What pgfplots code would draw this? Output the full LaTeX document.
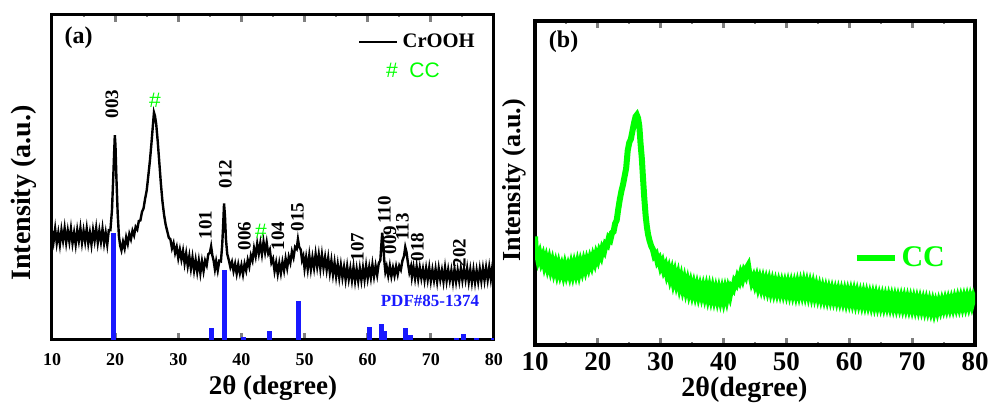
\documentclass[border=0pt]{standalone}
\usepackage{fontspec}
\setmainfont{Liberation Serif}
\newfontfamily\sansf{Liberation Sans}
\usepackage{pgfplots}
\usepackage{pgfplotstable}
\pgfplotsset{compat=1.18}
\definecolor{ccgreen}{RGB}{0,255,0}
\definecolor{pdfblue}{RGB}{25,25,255}
\newcommand{\fs}[1]{\fontsize{#1}{#1}\selectfont\bfseries}

% CrOOH pattern, panel (a)
\pgfplotstableread{
x y
10 33.6
10.25 30.3
10.5 34.2
10.75 29.8
11 33.0
11.25 29.4
11.5 33.8
11.75 30.6
12 34.4
12.25 30.0
12.5 33.6
12.75 30.3
13 34.2
13.25 29.8
13.5 33.0
13.75 29.4
14 33.8
14.25 30.6
14.5 34.4
14.75 30.0
15 33.6
15.25 30.3
15.5 34.2
15.75 29.8
16 33.0
16.25 29.4
16.5 33.8
16.75 30.6
17 34.4
17.25 30.0
17.5 33.6
17.75 30.3
18 34.2
18.25 29.8
18.5 33.0
18.75 29.4
19 33.8
19.25 33.8
19.5 40
19.7 50
19.85 58
19.95 63
20.05 60
20.2 50
20.4 39
20.6 32
20.8 29.0
21.0 27.6
21.25 30.2
21.5 28.2
21.75 31.6
22.0 29.6
22.25 32.6
22.5 31.0
22.75 33.6
23.0 32.2
23.25 34.8
23.5 34.0
23.75 36.6
24.0 36.8
24.25 39.4
24.5 40.5
24.75 43.5
25.0 46.0
25.25 50.5
25.5 55.0
25.75 60.5
26.0 66.5
26.15 70.0
26.3 69.0
26.5 66.5
26.75 61.0
27.0 54.5
27.25 48.0
27.5 42.5
27.75 38.5
28.0 35.5
28.25 33.5
28.5 31.5
28.75 31.0
29.0 28.2
29.25 29.8
29.5 26.8
29.75 28.6
30.0 25.2
30.25 27.8
30.5 24.8
30.75 27.4
31.0 23.6
31.25 26.6
31.5 22.8
31.75 25.8
32.0 22.0
32.25 25.4
32.5 21.4
32.75 24.6
33.0 21.0
33.25 24.4
33.5 20.6
33.75 24.2
34.0 21.2
34.25 24.4
34.5 23.0
34.75 26.4
35.0 26.8
35.2 28.8
35.4 26.0
35.6 24.4
35.8 21.8
36.0 24.2
36.25 21.4
36.5 24.4
36.75 24.2
36.95 29.0
37.1 35
37.25 42
37.4 38
37.55 31
37.75 26.5
38.0 24.6
38.25 22.4
38.5 24.0
38.75 21.2
39.0 23.4
39.25 20.4
39.5 23.2
39.75 20.6
40.0 23.0
40.25 20.2
40.5 23.4
40.75 21.4
41.0 24.6
41.25 22.6
41.5 26.0
41.75 24.4
42.0 28.2
42.25 25.8
42.5 29.6
42.75 26.6
43.0 29.8
43.25 26.4
43.5 30.2
43.75 27.0
44.0 30.0
44.25 26.6
44.5 27.8
44.75 23.8
45.0 25.0
45.25 21.2
45.5 23.8
45.75 20.4
46.0 23.6
46.25 20.6
46.5 24.0
46.75 21.4
47.0 25.0
47.25 22.2
47.5 25.6
47.75 23.8
48.0 27.2
48.25 25.4
48.5 28.6
48.75 28.0
48.95 31.0
49.15 28.6
49.4 27.8
49.6 24.6
49.8 25.8
50.0 22.0
50.25 25.4
50.5 21.8
50.75 26.0
51.0 21.8
51.25 25.4
51.5 22.2
51.75 26.4
52.0 22.6
52.25 26.2
52.5 22.0
52.75 26.2
53.0 22.2
53.25 25.4
53.5 21.6
53.75 25.2
54.0 20.8
54.25 24.4
54.5 20.2
54.75 23.8
55.0 19.6
55.25 23.2
55.5 19.2
55.75 23.0
56.0 19.2
56.25 22.4
56.5 18.6
56.75 22.6
57.0 18.8
57.25 22.0
57.5 18.4
57.75 22.4
58.0 18.2
58.25 21.8
58.5 18.2
58.75 22.0
59.0 18.4
59.25 22.2
59.5 18.6
59.75 22.8
60.0 19.0
60.25 22.4
60.5 19.2
60.75 23.2
61.0 19.6
61.25 22.8
61.5 20.0
61.75 23.6
62.0 24.5
62.15 29.0
62.3 33.0
62.45 30.0
62.6 25.0
62.8 21.0
63.0 22.6
63.25 19.8
63.5 22.8
63.75 19.6
64.0 22.2
64.25 19.8
64.5 22.6
64.75 20.2
65.0 22.8
65.25 21.6
65.5 24.4
65.75 25.8
65.95 28.6
66.15 27.0
66.35 24.0
66.6 20.8
66.85 22.6
67.0 19.4
67.25 22.4
67.5 19.0
67.75 22.6
68.0 18.8
68.25 22.2
68.5 19.0
68.75 21.8
69.0 18.4
69.25 22.0
69.5 18.6
69.75 22.2
70.0 18.2
70.25 21.6
70.5 18.4
70.75 21.8
71.0 18.0
71.25 22.0
71.5 18.6
71.75 21.4
72.0 18.0
72.25 22.2
72.5 18.2
72.75 21.6
73.0 18.4
73.25 21.4
73.5 17.8
73.75 21.8
74.0 18.0
74.25 21.4
74.5 18.2
74.75 22.0
75.0 18.4
75.25 21.8
75.5 18.6
75.75 22.0
76.0 18.0
76.25 21.6
76.5 17.8
76.75 21.6
77.0 17.8
77.25 21.4
77.5 18.0
77.75 21.8
78.0 18.2
78.25 22.0
78.5 18.4
78.75 22.2
79.0 18.6
79.25 22.4
79.5 18.8
79.75 22.6
80.0 21.0
}\crooh

% reference lines PDF#85-1374
\pgfplotstableread{
x y
19.8 33
35.2 3.7
37.3 21.5
40.3 1.0
44.4 2.8
49.0 12.0
60.3 4.0
62.2 5.0
62.7 2.8
66.0 3.7
66.8 1.5
74.0 0.6
75.1 1.8
77.3 0.7
79.9 0.6
}\pdfref

% carbon cloth, panel (b)
\pgfplotstableread{
x y
10 33.5
10.1 30.0
10.3 28.5
10.5 26.5
10.75 28.0
11 25.8
11.25 27.2
11.5 24.8
11.75 26.5
12 24.2
12.25 26.0
12.5 23.6
12.75 25.4
13 23.0
13.25 24.8
13.5 22.5
13.75 24.5
14 22.3
14.25 24.0
14.5 22.0
14.75 24.2
15 22.1
15.25 23.9
15.5 22.0
15.75 24.3
16 22.2
16.25 24.5
16.5 22.5
16.75 24.8
17 22.6
17.25 25.0
17.5 23.2
17.75 25.4
18 23.6
18.25 25.8
18.5 24.2
18.75 26.3
19 24.8
19.25 27.0
19.5 25.6
19.75 27.8
20 26.5
20.25 28.6
20.5 27.5
20.75 29.8
21 29.0
21.25 31.2
21.5 30.8
21.75 33.0
22 32.5
22.25 34.6
22.5 35.0
22.75 37.5
23 38.5
23.25 42.0
23.5 45.0
23.75 47.5
24 49.5
24.25 52.0
24.5 54.5
24.75 60.0
25 62.5
25.25 63.5
25.5 66.0
25.75 68.5
26 70.5
26.2 71.0
26.4 70.0
26.6 67.5
26.8 62.0
27 57.5
27.2 51.0
27.4 45.0
27.6 40.0
27.8 36.5
28 34.0
28.25 32.0
28.5 30.5
28.75 29.5
29 27.5
29.25 28.0
29.5 25.8
29.75 26.5
30 24.3
30.25 25.4
30.5 23.2
30.75 24.3
31 21.9
31.25 23.3
31.5 20.8
31.75 22.5
32 19.8
32.25 21.8
32.5 19.3
32.75 21.2
33 18.4
33.25 20.4
33.5 17.8
33.75 19.8
34 17.2
34.25 19.2
34.5 16.6
34.75 18.6
35 16.2
35.25 18.2
35.5 15.9
35.75 17.9
36 15.6
36.25 17.6
36.5 15.5
36.75 17.5
37 15.3
37.25 17.4
37.5 15.0
37.75 17.2
38 14.8
38.25 17.0
38.5 14.6
38.75 16.7
39 14.4
39.25 16.6
39.5 14.3
39.75 16.5
40 14.2
40.25 16.6
40.5 14.5
40.75 17.0
41 15.4
41.25 17.8
41.5 17.2
41.75 19.5
42 18.8
42.25 20.8
42.5 19.8
42.75 21.8
43 20.5
43.25 22.5
43.5 21.5
43.75 24.0
43.9 24.5
44.1 22.0
44.3 21.5
44.5 19.6
44.75 20.8
45 18.9
45.25 20.5
45.5 18.2
45.75 20.0
46 17.9
46.25 19.8
46.5 17.6
46.75 19.5
47 17.3
47.25 19.3
47.5 17.0
47.75 19.0
48 16.8
48.25 18.8
48.5 16.7
48.75 18.7
49 16.6
49.25 18.6
49.5 16.5
49.75 18.5
50 16.4
50.25 18.5
50.5 16.3
50.75 18.4
51 16.2
51.25 18.3
51.5 16.1
51.75 18.4
52 16.2
52.25 18.5
52.5 16.3
52.75 18.6
53 16.2
53.25 18.4
53.5 16.0
53.75 18.2
54 15.8
54.25 18.0
54.5 15.6
54.75 17.6
55 15.3
55.25 17.3
55.5 15.0
55.75 17.0
56 14.8
56.25 16.8
56.5 14.6
56.75 16.6
57 14.5
57.25 16.5
57.5 14.4
57.75 16.3
58 14.2
58.25 16.2
58.5 14.1
58.75 16.1
59 14.0
59.25 16.0
59.5 13.8
59.75 15.9
60 13.8
60.25 15.9
60.5 13.7
60.75 15.8
61 13.5
61.25 15.6
61.5 13.4
61.75 15.4
62 13.2
62.25 15.3
62.5 13.1
62.75 15.2
63 13.0
63.25 15.0
63.5 12.8
63.75 14.9
64 12.7
64.25 14.8
64.5 12.6
64.75 14.6
65 12.5
65.25 14.5
65.5 12.4
65.75 14.4
66 12.4
66.25 14.4
66.5 12.3
66.75 14.3
67 12.2
67.25 14.2
67.5 12.1
67.75 14.1
68 12.1
68.25 14.1
68.5 12.0
68.75 14.0
69 11.9
69.25 13.9
69.5 11.8
69.75 13.8
70 11.7
70.25 13.7
70.5 11.6
70.75 13.6
71 11.5
71.25 13.5
71.5 11.4
71.75 13.3
72 11.2
72.25 13.2
72.5 11.1
72.75 13.0
73 10.9
73.25 12.8
73.5 10.6
73.75 12.6
74 10.8
74.25 12.9
74.5 11.2
74.75 13.2
75 11.5
75.25 13.4
75.5 11.6
75.75 13.5
76 11.7
76.25 13.6
76.5 11.8
76.75 13.8
77 12.0
77.25 14.0
77.5 12.1
77.75 14.1
78 12.2
78.25 14.2
78.5 12.3
78.75 14.3
79 12.4
79.25 14.4
79.5 12.6
79.75 14.5
80 13.0
}\cc

\pgfplotsset{
  xrd/.style={
    scale only axis,
    xmin=10, xmax=80, ymin=0, ymax=100,
    xtick={10,20,...,80},
    minor xtick={15,25,...,75},
    ytick=\empty,
    tick align=inside,
    major tick length=3.5pt,
    minor tick length=1.2pt,
    every major tick/.append style={line width=1.4pt},
    every minor tick/.append style={line width=1pt},
    /pgf/number format/assume math mode=true,
    legend image code/.code={\draw[##1] (0pt,0pt) -- (19pt,0pt);},
  },
}

\begin{document}
\begin{tikzpicture}
\path[use as bounding box] (0,0) rectangle (496.5pt,202.5pt);

% ---- panel (a)
\begin{axis}[xrd,
  at={(26pt,32.5pt)}, anchor=south west,
  width=221pt, height=162.5pt,
  axis line style={line width=1.5pt},
  minor ytick={0,3.3333,...,100},
  xticklabel style={font=\fs{9}, yshift=-3pt},
  xlabel={2θ (degree)},
  xlabel style={font=\fs{13.5}, at={(axis description cs:0.5,-0.148)}, anchor=center},
  ylabel={Intensity (a.u.)},
  ylabel style={font=\fs{14}, at={(axis description cs:-0.063,0.452)}, anchor=center},
  legend style={at={(axis description cs:0.692,0.917)}, anchor=west, draw=none, fill=none,
    inner sep=0pt, font=\fs{10.3}},
]
\addplot[ycomb, pdfblue, line width=2.5pt, forget plot] table {\pdfref};
\addplot[black, line width=1.2pt] table {\crooh};
\addlegendentry{CrOOH}

\node[anchor=west, text=ccgreen, font=\sansf\fontsize{10.5}{10.5}\selectfont] at (axis cs:61.8,83) {\#\hspace{0.55em}CC};
\node[anchor=west, font=\fs{12}] at (axis cs:10.9,93) {(a)};
\node[text=pdfblue, font=\fs{8.5}] at (axis cs:69.86,12) {PDF\#85-1374};

\begin{scope}[every node/.style={rotate=90, font=\fs{9.5}, inner sep=0pt}]
\node at (axis cs:19.50,72.6) {003};
\node at (axis cs:37.48,51.1) {012};
\node at (axis cs:34.31,35.4) {101};
\node at (axis cs:40.49,32.0) {006};
\node at (axis cs:45.79,32.0) {104};
\node at (axis cs:48.88,37.8) {015};
\node at (axis cs:58.38,28.6) {107};
\node at (axis cs:62.66,40.0) {110};
\node at (axis cs:63.53,30.8) {009};
\node at (axis cs:65.51,34.8) {113};
\node at (axis cs:67.89,28.6) {018};
\node at (axis cs:74.54,26.8) {202};
\end{scope}
\node[text=ccgreen, font=\sansf\fontsize{10.5}{10.5}\selectfont, inner sep=0pt] at (axis cs:26.31,73.8) {\#};
\node[text=ccgreen, font=\sansf\fontsize{10.5}{10.5}\selectfont, inner sep=0pt] at (axis cs:43.10,33.5) {\#};
\end{axis}

% ---- panel (b)
\begin{axis}[xrd,
  at={(267.5pt,30pt)}, anchor=south west,
  width=220pt, height=162pt,
  axis line style={line width=2pt},
  minor ytick={0,6.6667,...,100},
  minor tick length=1.5pt,
  xticklabel style={font=\fs{13.5}},
  xlabel={2θ(degree)},
  xlabel style={font=\fs{14}, at={(axis description cs:0.476,-0.139)}, anchor=center},
  ylabel={Intensity (a.u.)},
  ylabel style={font=\fs{13}, at={(axis description cs:-0.048,0.509)}, anchor=center},
  legend style={at={(axis description cs:0.723,0.2685)}, anchor=west, draw=none, fill=none,
    inner sep=0pt, font=\fs{15}, text=ccgreen},
]
\addplot[ccgreen, line width=3pt] table {\cc};
\addlegendentry{CC}
\node[anchor=west, font=\fs{12}] at (axis cs:11.1,93.5) {(b)};
\end{axis}
\end{tikzpicture}
\end{document}
